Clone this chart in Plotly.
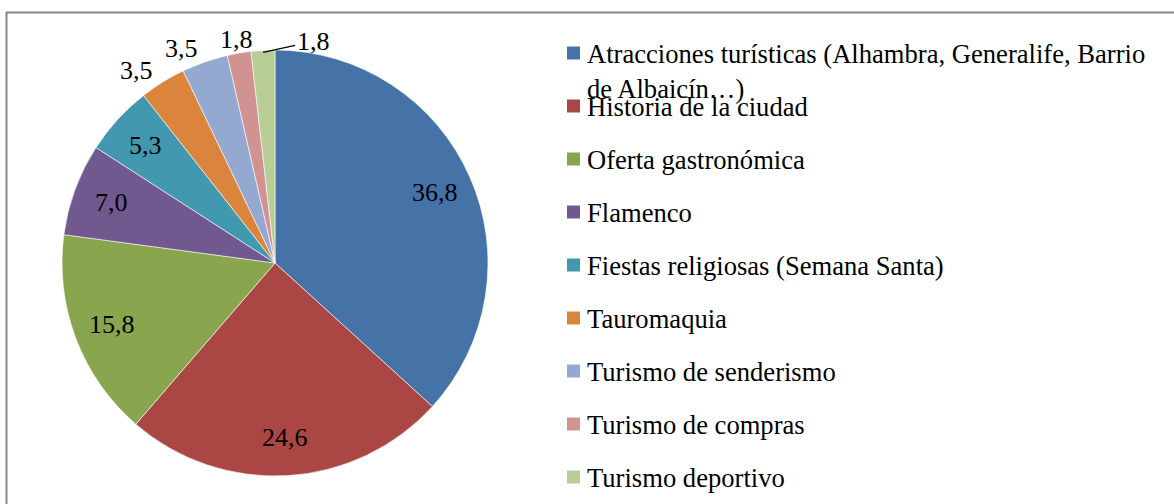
import math
import plotly.graph_objects as go

W, H = 1174, 504

categories = [
    "Atracciones turísticas (Alhambra, Generalife, Barrio<br>de Albaicín…)",
    "Historia de la ciudad",
    "Oferta gastronómica",
    "Flamenco",
    "Fiestas religiosas (Semana Santa)",
    "Tauromaquia",
    "Turismo de senderismo",
    "Turismo de compras",
    "Turismo deportivo",
]
values = [36.8, 24.6, 15.8, 7.0, 5.3, 3.5, 3.5, 1.8, 1.8]
colors = ["#4572A7", "#AA4643", "#89A54E", "#71588F", "#4198AF",
          "#DB843D", "#93A9CF", "#D19392", "#B9CD96"]
label_mode = ["inside"] * 5 + ["outside"] * 3 + ["leader"]

FS = 26
LEG_FS = 26.6
FONT = "Liberation Serif"
# pie centre ~ (275, 263), radius ~ 213 px
cx, cy, r = 275, 263, 213


def px(x):
    return x / W


def py(y):
    return 1 - y / H


fig = go.Figure(go.Pie(
    labels=categories, values=values, sort=False, direction="clockwise",
    rotation=0, showlegend=False, textinfo="none", hoverinfo="label+value",
    marker=dict(colors=colors, line=dict(color="white", width=0.6)),
    domain=dict(x=[px(cx - r), px(cx + r)], y=[py(cy + r), py(cy - r)]),
))

shapes = [dict(type="rect", xref="paper", yref="paper",
               x0=px(6.5), x1=1.02, y0=-0.02, y1=py(12.5),
               line=dict(color="#878787", width=2))]
annotations = []

# data labels, Excel-style: along each slice bisector
total = sum(values)
cum = 0.0
for v, mode in zip(values, label_mode):
    theta = 2 * math.pi * (cum + v / 2) / total
    cum += v
    s, c = math.sin(theta), math.cos(theta)
    txt = f"{v:.1f}".replace(".", ",")
    font = dict(family=FONT, size=FS, color="black")
    if mode == "inside":
        R = 0.82 * r
        annotations.append(dict(xref="paper", yref="paper", x=px(cx + R * s), y=py(cy - R * c),
                                xanchor="center", yanchor="middle",
                                text=txt, showarrow=False, font=font))
    elif mode == "outside":
        R = r + 14
        annotations.append(dict(xref="paper", yref="paper", x=px(cx + R * s), y=py(cy - R * c),
                                xanchor="right" if s < -0.25 else "center", yanchor="middle",
                                text=txt, showarrow=False, font=font))
    else:
        R = r - 2
        annotations.append(dict(xref="paper", yref="paper", x=px(cx + R * s), y=py(cy - R * c),
                                ax=50, ay=-11, text=txt, showarrow=True, arrowhead=0,
                                arrowwidth=1.2, arrowcolor="black", standoff=0, font=font))

# legend drawn by hand so the item spacing matches the original
y0, step = 53, 53
for i, (name, col) in enumerate(zip(categories, colors)):
    yc = y0 + i * step
    shapes.append(dict(type="rect", xref="paper", yref="paper",
                       x0=px(567), x1=px(580), y0=py(yc + 6.5), y1=py(yc - 6.5),
                       fillcolor=col, line=dict(width=0)))
    annotations.append(dict(xref="paper", yref="paper", x=px(585), y=py(yc - 0.62 * LEG_FS),
                            xanchor="left", yanchor="top", align="left", showarrow=False,
                            text=name, font=dict(family=FONT, size=LEG_FS, color="black")))

fig.update_layout(
    width=W, height=H,
    margin=dict(l=0, r=0, t=0, b=0, autoexpand=False),
    paper_bgcolor="white",
    font=dict(family=FONT, size=FS, color="black"),
    shapes=shapes,
    annotations=annotations,
)

fig.write_html("out.html", config={"displayModeBar": False},
               post_script="document.body.style.margin = '0';")
